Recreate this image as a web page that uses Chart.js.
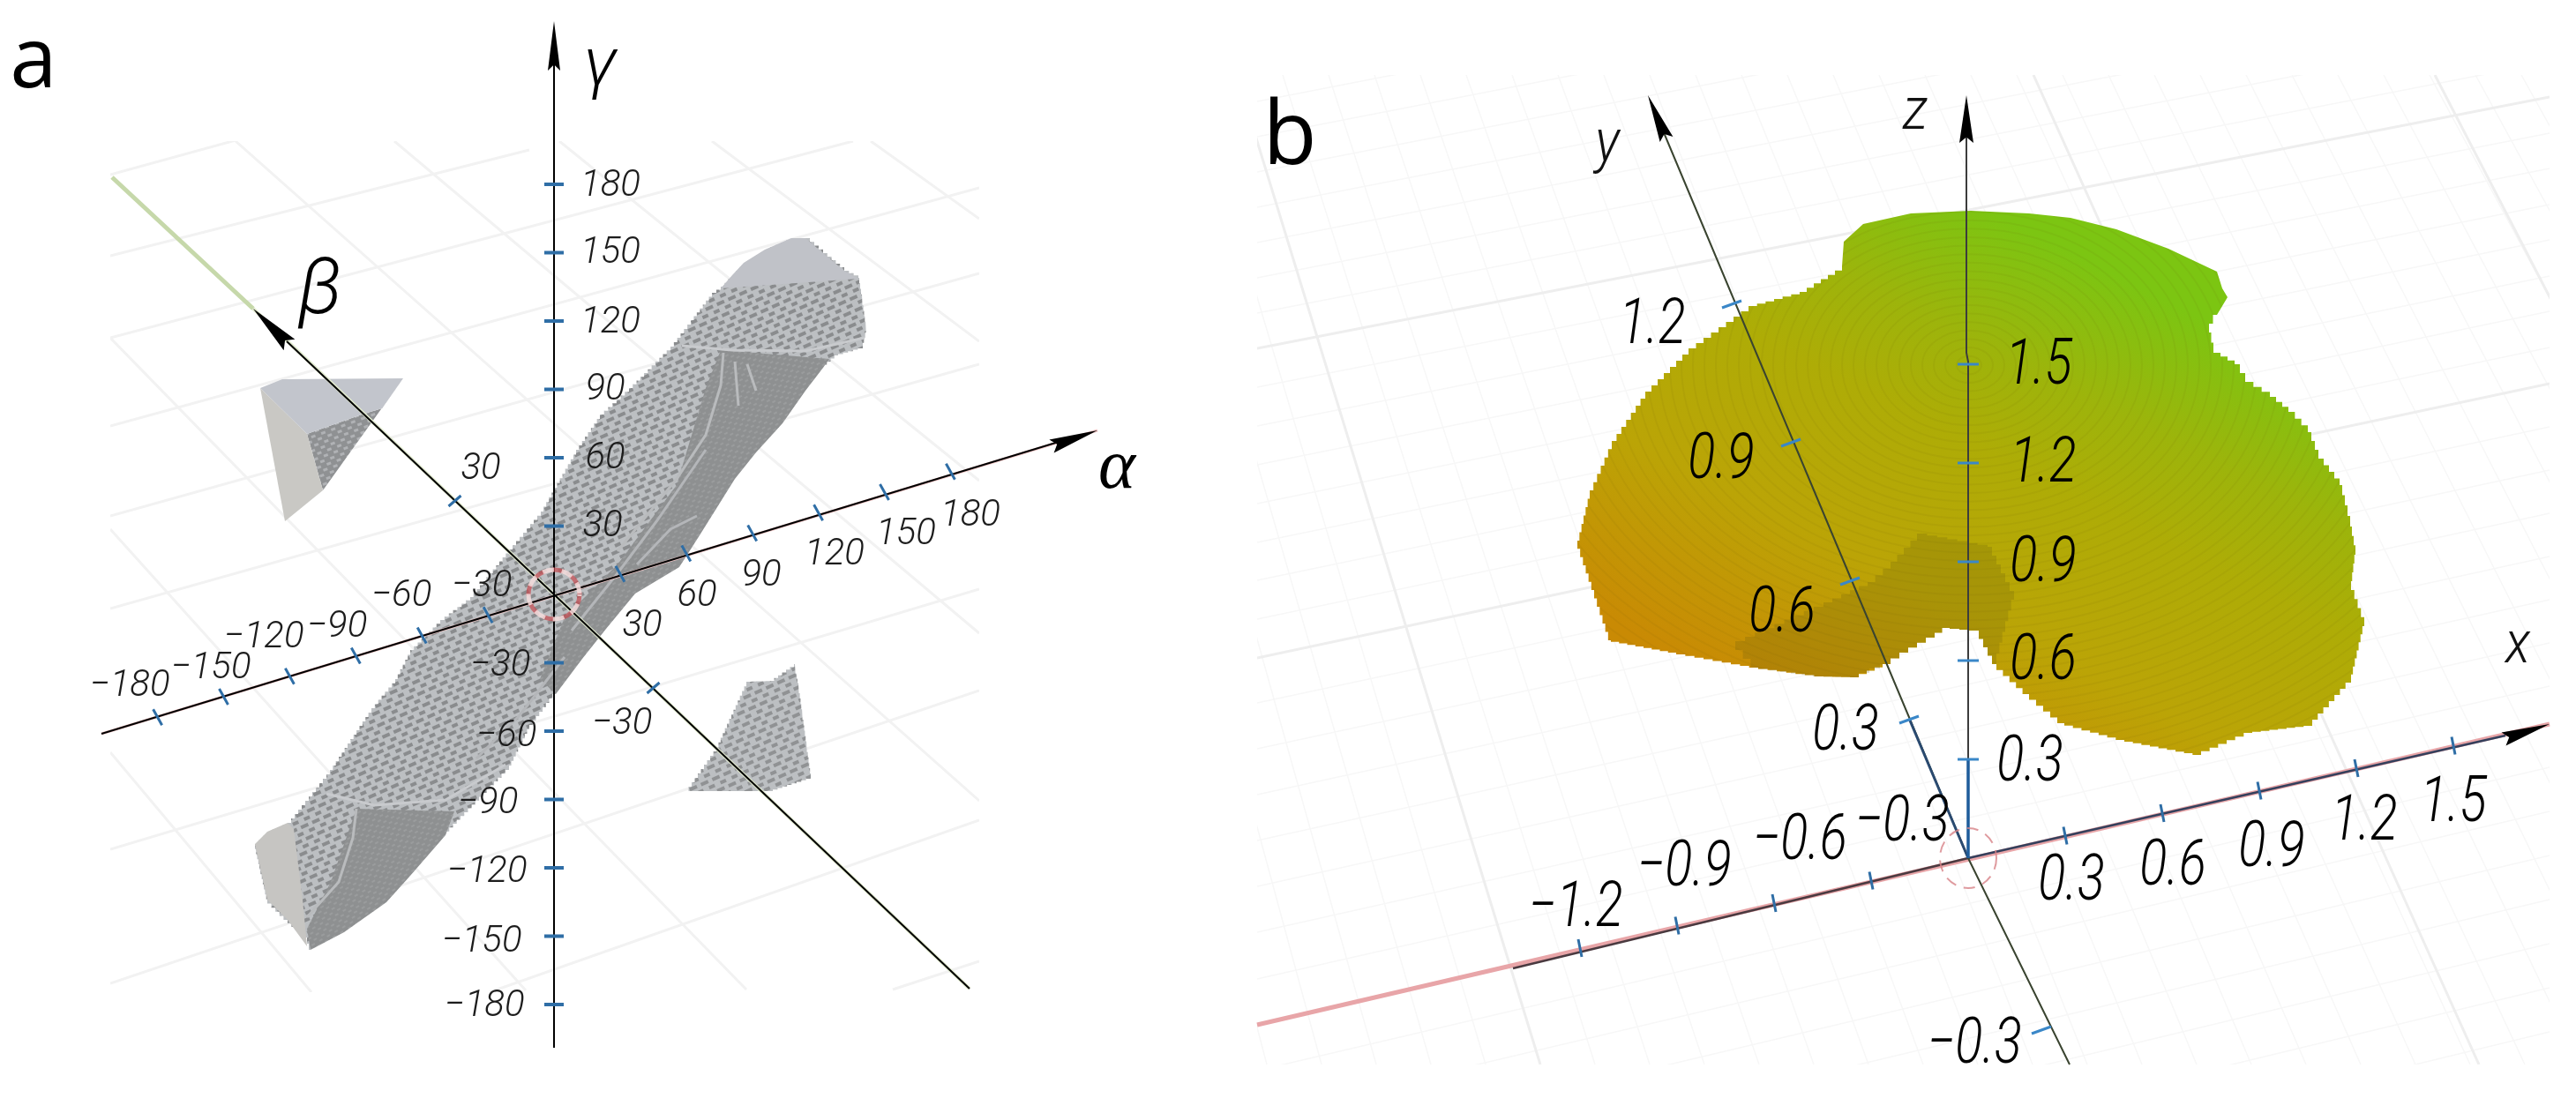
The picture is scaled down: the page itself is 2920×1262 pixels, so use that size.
<!DOCTYPE html>
<html>
<head>
<meta charset="utf-8">
<title>a b</title>
<script src="https://cdn.jsdelivr.net/npm/chart.js@4"></script>
<style>
  html, body { margin: 0; background: #fff; }
  canvas { display: block; }
</style>
</head>
<body>
<canvas id="cv" width="2920" height="1262"></canvas>
<script>
// values, the plot scales run in reference pixels
// panel a: angle axes
const alphaTicks = [-180, -150, -120, -90, -60, -30, 30, 60, 90, 120, 150, 180];
const alphaLabels = ["−180", "−150", "−120", "−90", "−60", "−30", "30", "60", "90", "120", "150", "180"];
const betaTicks = [30, -30];
const betaLabels = ["30", "−30"];
const gammaTicks = [180, 150, 120, 90, 60, 30, -30, -60, -90, -120, -150, -180];
const gammaLabels = ["180", "150", "120", "90", "60", "30", "−30", "−60", "−90", "−120", "−150", "−180"];

// panel b: coordinate axes
const xTicks = [-1.2, -0.9, -0.6, -0.3, 0.3, 0.6, 0.9, 1.2, 1.5];
const xLabels = ["−1.2", "−0.9", "−0.6", "−0.3", "0.3", "0.6", "0.9", "1.2", "1.5"];
const yTicks = [0.3, 0.6, 0.9, 1.2];
const yLabels = ["0.3", "0.6", "0.9", "1.2"];
const yBackTicks = [-0.3]; // the part behind the origin runs at another slope
const yBackLabels = ["−0.3"];
const zTicks = [0.3, 0.6, 0.9, 1.2, 1.5];
const zLabels = ["0.3", "0.6", "0.9", "1.2", "1.5"];

// solid in panel a
const bodyX = [817, 830, 843, 867, 897, 913, 933, 957, 973, 977, 982, 978, 950, 933, 913, 887, 857, 833, 793, 770, 720, 687, 660, 630, 600, 577, 505, 465, 438, 390, 352, 348, 326, 303, 289, 303, 326, 350, 374, 394, 421, 448, 465, 499, 533, 577, 613, 653, 680, 713, 760, 783, 807];
const bodyY = [325, 312, 298, 283, 270, 270, 287, 307, 315, 340, 377, 395, 403, 417, 443, 480, 513, 543, 607, 643, 673, 713, 747, 787, 827, 873, 947, 993, 1023, 1057, 1077, 1063, 1043, 1020, 957, 943, 933, 903, 873, 843, 803, 770, 737, 703, 677, 623, 580, 510, 470, 440, 393, 363, 332];
const capTopX = [817, 830, 843, 867, 897, 913, 933, 957, 973];
const capTopY = [327, 312, 298, 283, 270, 270, 287, 307, 316];
const capLowX = [289, 303, 326, 333, 343, 348, 326, 303];
const capLowY = [957, 943, 933, 940, 1020, 1073, 1043, 1020];
const darkUpX = [817, 940, 933, 913, 887, 857, 833, 793, 770, 720, 687, 660, 630, 612, 640, 700, 767, 800];
const darkUpY = [397, 407, 417, 443, 480, 513, 543, 607, 643, 673, 713, 747, 787, 770, 700, 640, 550, 440];
const darkLowX = [404, 515, 505, 465, 438, 390, 352, 348, 375];
const darkLowY = [917, 920, 947, 993, 1023, 1057, 1077, 1053, 1000];
const wedgeTopX = [295, 320, 457, 433, 410, 348];
const wedgeTopY = [440, 430, 429, 463, 470, 492];
const wedgeSideX = [295, 348, 366, 323];
const wedgeSideY = [440, 492, 556, 591];
const wedgeDarkX = [348, 410, 433, 457, 366];
const wedgeDarkY = [492, 470, 463, 429, 556];
const wedgeLowX = [777, 812, 846, 873, 900, 905, 919, 876];
const wedgeLowY = [897, 847, 773, 772, 753, 780, 883, 897];

// pale streaks running over the solid
const streak1X = [773, 830, 913, 980];
const streak1Y = [392, 397, 398, 383];
const streak2X = [370, 424, 505, 573];
const streak2Y = [900, 913, 907, 867];
const streak3X = [700, 767, 800, 817, 820];
const streak3Y = [625, 543, 493, 437, 400];
const streak4X = [348, 384, 400, 404];
const streak4Y = [1040, 1000, 950, 917];
const streak5X = [837, 833];
const streak5Y = [460, 410];
const streak6X = [857, 847];
const streak6Y = [443, 413];
const streak7X = [648, 700, 745, 800];
const streak7Y = [715, 650, 590, 510];
const streak8X = [722, 760, 790];
const streak8Y = [640, 600, 585];
const streak9X = [540, 590, 640];
const streak9Y = [860, 810, 745];

// solid in panel b
const domeTopX = [2088, 2090, 2112, 2166, 2234, 2300, 2347, 2399, 2458, 2513, 2519, 2525];
const domeTopY = [302, 274, 254, 242, 239, 242, 247, 260, 282, 308, 327, 337];
const domeRestX = [2513, 2504, 2509, 2533, 2545, 2573, 2594, 2616, 2628, 2652, 2658, 2664, 2670, 2665, 2680, 2665, 2621, 2553, 2495, 2408, 2340, 2300, 2263, 2243, 2210, 2193, 2163, 2143, 2107, 2067, 1993, 1900, 1826, 1807, 1788, 1802, 1827, 1865, 1914, 1982, 2040, 2088];
const domeRestY = [357, 377, 400, 413, 433, 450, 467, 490, 520, 550, 573, 597, 629, 669, 710, 774, 823, 831, 856, 839, 820, 787, 753, 715, 712, 723, 740, 753, 768, 767, 757, 740, 726, 669, 613, 556, 500, 444, 395, 347, 331, 302];
const notchX = [2173, 2253, 2283, 2263, 2243, 2210, 2193, 2163, 2143, 2107, 2067, 1993, 1967, 2067, 2117, 2143];
const notchY = [605, 620, 680, 753, 715, 712, 723, 740, 753, 768, 767, 757, 727, 683, 660, 637];

// floor grid of panel a, line ends
const gridAX0 = [125, 125, 125, 125, 125, 125, 125, 125, 555, 1012, 267, 447, 634, 807, 987, 125, 125, 125];
const gridAY0 = [198, 290, 383, 483, 585, 690, 963, 1115, 1125, 1122, 160, 160, 160, 160, 160, 383, 600, 853];
const gridAX1 = [300, 600, 967, 1110, 1110, 1110, 1110, 1110, 1110, 1110, 1110, 1110, 1110, 1110, 1110, 846, 596, 353];
const gridAY1 = [150, 170, 160, 213, 310, 413, 668, 783, 930, 1090, 908, 718, 545, 387, 248, 1122, 1123, 1125];

// floor grid of panel b, rows at the left and right edge, columns at the top and bottom edge
const rowLeftY = [115, 155, 195, 235, 275, 315, 355, 395, 439, 483, 527, 571, 615, 658, 702, 746, 797, 849, 901, 953, 1005, 1057, 1110, 1162, 1214];
const rowRightY = [-170, -130, -90, -50, -10, 30, 70, 110, 151, 191, 232, 272, 313, 353, 394, 435, 484, 533, 582, 631, 680, 729, 778, 821, 870];
const moreRowLeftY = [1266, 1318, 1370, 1422, 1474, 1526, 1578];
const moreRowRightY = [920, 970, 1020, 1070, 1120, 1170, 1220];
const colTopX = [1090, 1142, 1194, 1246, 1298, 1350, 1402, 1454, 1506, 1558, 1610, 1662, 1714, 1766, 1818, 1870, 1922, 1974, 2026, 2078, 2130, 2182, 2234, 2286, 2338, 2390, 2442, 2494, 2546, 2598, 2650, 2702, 2754, 2806, 2858, 2910];
const colBottomX = [1374, 1436, 1498, 1560, 1622, 1684, 1746, 1808, 1870, 1932, 1994, 2056, 2118, 2180, 2242, 2304, 2366, 2428, 2490, 2552, 2614, 2676, 2738, 2800, 2862, 2924, 2986, 3048, 3110, 3172, 3234, 3296, 3358, 3420, 3482, 3544];
const rowMajorLeftY = [395, 746];
const rowMajorRightY = [110, 435];
const colMajorTopX = [1402, 2305, 2760];
const colMajorBottomX = [1746, 2810, 3340];

// label anchors, in the same plot units
const alphaLabelX = [147, 239, 299, 382, 455, 546, 728, 790, 863, 946, 1027, 1100];
const alphaLabelY = [778, 758, 723, 711, 676, 665, 710, 676, 653, 629, 606, 585];
const betaLabelX = [545, 705];
const betaLabelY = [532, 821];
const gammaLabelX = [692, 692, 692, 686, 686, 683, 567, 574, 553, 552, 546, 549];
const gammaLabelY = [211, 287, 366, 442, 520, 597, 755, 835, 911, 989, 1068, 1141];
const xLabelX = [1786, 1909, 2040, 2156, 2348, 2463, 2575, 2680, 2781];
const xLabelY = [1032, 986, 956, 935, 1002, 985, 964, 934, 913];
const yLabelX = [2092, 2020, 1951, 1873];
const yLabelY = [832, 698, 524, 371];
const yBackLabelX = [2238];
const yBackLabelY = [1187];
const zLabelX = [2301, 2316, 2316, 2316, 2311];
const zLabelY = [867, 752, 641, 528, 417];

// where each axis sits: origin and step per tick unit
const axisA = { ox: 628, oy: 674 };
const axisB = { ox: 2231, oy: 973 };
const alphaStep = [74.9 / 30, -23.2 / 30];
const betaStep = [-112.5 / 30, -106 / 30];
const gammaStep = [0, -77.5 / 30];
const xStep = [110 / 0.3, -25.5 / 0.3];
const yStep = [-67 / 0.3, -157 / 0.3];
const yBackStep = [-83 / 0.3, -195 / 0.3];
const zStep = [0, -112 / 0.3];

const canvas = document.getElementById("cv");
const ctx = canvas.getContext("2d");

function pts(xs, ys) {
  return xs.map((x, i) => ({ x: x, y: ys[i] }));
}

// several separate lines in one dataset, a NaN point breaks the path
function lines(x0, y0, x1, y1) {
  let out = [];
  for (let i = 0; i < x0.length; i++) {
    out.push({ x: x0[i], y: y0[i] }, { x: x1[i], y: y1[i] }, { x: NaN, y: NaN });
  }
  return out;
}

function tickMarks(ticks, o, step, dx, dy) {
  let out = [];
  for (const t of ticks) {
    const px = o.ox + t * step[0];
    const py = o.oy + t * step[1];
    out.push({ x: px - dx, y: py - dy }, { x: px + dx, y: py + dy }, { x: NaN, y: NaN });
  }
  return out;
}

// voxel look: walk an outline in small stairs instead of straight edges
function stairs(points, size, closed) {
  let out = [];
  const last = closed ? points.length : points.length - 1;
  for (let i = 0; i < last; i++) {
    const a = points[i];
    const b = points[(i + 1) % points.length];
    const n = Math.max(1, Math.round(Math.hypot(b.x - a.x, b.y - a.y) / size));
    for (let k = 0; k < n; k++) {
      const p = { x: a.x + (b.x - a.x) * k / n, y: a.y + (b.y - a.y) * k / n };
      const q = { x: a.x + (b.x - a.x) * (k + 1) / n, y: a.y + (b.y - a.y) * (k + 1) / n };
      out.push(p, { x: q.x, y: p.y });
    }
  }
  return out;
}

// staggered dark bricks with pale mortar, like the voxel faces
function brickPattern(base, dark, w, h, bw, bh, angle) {
  const c = document.createElement("canvas");
  c.width = w;
  c.height = h * 2;
  const g = c.getContext("2d");
  g.fillStyle = base;
  g.fillRect(0, 0, c.width, c.height);
  g.fillStyle = dark;
  g.fillRect(0, 0, bw, bh);
  g.fillRect(w / 2, h, bw, bh);
  const p = ctx.createPattern(c, "repeat");
  p.setTransform(new DOMMatrix().rotate(angle));
  return p;
}

// the faint concentric steps on the dome
function ringPattern() {
  const c = document.createElement("canvas");
  c.width = canvas.width;
  c.height = canvas.height;
  const g = c.getContext("2d");
  g.strokeStyle = "rgba(95,85,0,0.07)";
  g.lineWidth = 2;
  for (let r = 14; r < 900; r += 13) {
    g.beginPath();
    g.ellipse(2232, 414, r, r * 0.74, 0, 0, Math.PI * 2);
    g.stroke();
  }
  return ctx.createPattern(c, "no-repeat");
}

const domeFill = ctx.createLinearGradient(2000, 830, 2300, 240);
domeFill.addColorStop(0.05, "#c98a04");
domeFill.addColorStop(0.34, "#bba406");
domeFill.addColorStop(0.6, "#aeac06");
domeFill.addColorStop(0.76, "#9db40b");
domeFill.addColorStop(0.97, "#7cc512");

function shape(data, fill) {
  return { data: data, showLine: true, fill: "shape", backgroundColor: fill, borderWidth: 0, borderColor: "transparent", pointRadius: 0, tension: 0 };
}
function stroke(data, color, width, extra) {
  return Object.assign({ data: data, showLine: true, fill: false, borderColor: color, borderWidth: width, pointRadius: 0, tension: 0, spanGaps: false }, extra || {});
}
function arrow(tipX, tipY, baseX, baseY, half) {
  const len = Math.hypot(tipX - baseX, tipY - baseY);
  const nx = -(tipY - baseY) / len * half;
  const ny = (tipX - baseX) / len * half;
  return [{ x: tipX, y: tipY }, { x: baseX + nx, y: baseY + ny }, { x: baseX + (tipX - baseX) * 0.12, y: baseY + (tipY - baseY) * 0.12 }, { x: baseX - nx, y: baseY - ny }];
}

const clipA = { left: -125, top: -160, right: -1810, bottom: -137 };
const clipB = { left: -1425, top: -85, right: -30, bottom: -55 };
const blue = "#2f6ea6";

const domeOutline = pts(domeTopX, domeTopY).concat(stairs(pts(domeRestX, domeRestY), 10, false));
const bodyOutline = stairs(pts(bodyX, bodyY), 6, true);

// painter's order, first entry at the back
let datasets = [
  stroke(lines(gridAX0, gridAY0, gridAX1, gridAY1), "#f2f2f2", 3, { clip: clipA }),
  stroke(lines(rowLeftY.map(() => 1425), rowLeftY, rowRightY.map(() => 2890), rowRightY), "#f7f7f7", 1.5, { clip: clipB }),
  stroke(lines(moreRowLeftY.map(() => 1425), moreRowLeftY, moreRowRightY.map(() => 2890), moreRowRightY), "#f7f7f7", 1.5, { clip: clipB }),
  stroke(lines(colTopX, colTopX.map(() => 85), colBottomX, colBottomX.map(() => 1207)), "#f7f7f7", 1.5, { clip: clipB }),
  stroke(lines(rowMajorLeftY.map(() => 1425), rowMajorLeftY, rowMajorRightY.map(() => 2890), rowMajorRightY), "#eeeeee", 3, { clip: clipB }),
  stroke(lines(colMajorTopX, colMajorTopX.map(() => 85), colMajorBottomX, colMajorBottomX.map(() => 1207)), "#eeeeee", 3, { clip: clipB }),

  // panel a solids
  shape(bodyOutline, brickPattern("#bcbfc2", "#8a8c8e", 14, 7, 9, 4, -24)),
  shape(pts(darkUpX, darkUpY), brickPattern("#8e9091", "#9a9c9d", 10, 4, 4, 2, -30)),
  shape(pts(darkLowX, darkLowY), brickPattern("#8e9091", "#9a9c9d", 10, 4, 4, 2, -30)),
  stroke(pts(streak1X, streak1Y), "#c8cacd", 3),
  stroke(pts(streak2X, streak2Y), "#c8cacd", 3),
  stroke(pts(streak3X, streak3Y), "#b9bbbd", 3),
  stroke(pts(streak4X, streak4Y), "#b9bbbd", 3),
  stroke(pts(streak5X, streak5Y), "#b9bbbd", 3),
  stroke(pts(streak6X, streak6Y), "#b9bbbd", 3),
  stroke(pts(streak7X, streak7Y), "#b4b6b9", 3),
  stroke(pts(streak8X, streak8Y), "#b4b6b9", 3),
  stroke(pts(streak9X, streak9Y), "#b4b6b9", 3),
  shape(pts(capTopX, capTopY), "#c0c2c8"),
  shape(pts(capLowX, capLowY), "#c6c5c2"),
  shape(pts(wedgeDarkX, wedgeDarkY), brickPattern("#8f9193", "#b0b2b5", 12, 5, 5, 3, -20)),
  shape(pts(wedgeSideX, wedgeSideY), "#c9c8c4"),
  shape(pts(wedgeTopX, wedgeTopY), "#c2c5cc"),
  shape(stairs(pts(wedgeLowX, wedgeLowY), 6, true), brickPattern("#bcbfc2", "#909294", 14, 7, 9, 4, -24)),

  // panel b solid
  shape(domeOutline, domeFill),
  shape(domeOutline, ringPattern()),
  shape(stairs(pts(notchX, notchY), 12, true), "rgba(95,85,15,0.2)"),

  // axis colour under the black lines
  stroke(pts([115, 1244], [832, 488]), "#f0c6c6", 3),
  stroke(pts([127, 287], [201, 350]), "#c6d8aa", 5),
  stroke(pts([287, 628, 1099], [350, 674, 1121]), "#e2ebcf", 4),
  stroke(pts([1425, 2890], [1162, 821]), "#e8a5a8", 5),

  // axes
  stroke(pts([115, 1200], [832, 501]), "#000", 2),
  stroke(pts([628, 628], [60, 1188]), "#000", 2),
  stroke(pts([325, 628, 1099], [387, 674, 1121]), "#000", 2),
  stroke(pts([1715, 2231], [1098, 973]), "#4a3a40", 2.5),
  stroke(pts([2231, 2840], [973, 834]), "#34405c", 2.5),
  stroke(pts([1885, 2231, 2346], [148, 973, 1207]), "#3a4430", 2),
  stroke(pts([2165, 2231], [817, 973]), "#2a4a70", 3),
  stroke(pts([2229, 2229, 2231, 2231], [150, 400, 410, 860]), "#3c3c3c", 2),
  stroke(pts([2231, 2231], [862, 973]), "#1e5c9a", 3.5),

  // axis arrows
  shape(arrow(1244, 488, 1192, 506, 8), "#000"),
  shape(arrow(287, 350, 328, 391, 9), "#000"),
  shape(arrow(628, 24, 628, 80, 7), "#000"),
  shape(arrow(2890, 821, 2838, 838, 8), "#000"),
  shape(arrow(1868, 108, 1889, 158, 8), "#000"),
  shape(arrow(2229, 108, 2229, 162, 8), "#000"),

  // tick marks
  stroke(tickMarks(alphaTicks, axisA, alphaStep, 5, 9), blue, 3),
  stroke(tickMarks(betaTicks, axisA, betaStep, 7, -6), blue, 3),
  stroke(tickMarks(gammaTicks, axisA, gammaStep, 11, 0), blue, 4),
  stroke(tickMarks(xTicks, axisB, xStep, 2, 10), blue, 3),
  stroke(tickMarks(yTicks, axisB, yStep, 11, -4), "#3a87c8", 3),
  stroke(tickMarks(yBackTicks, axisB, yBackStep, 11, -4), "#3a87c8", 3),
  stroke(tickMarks(zTicks, axisB, zStep, 12, 0), "#3a87c8", 3)
];
datasets.reverse(); // chart.js paints the first dataset last

const tickFontA = 'italic 300 42px Roboto';
const tickFontB = 'italic 300 72px Roboto';

const textLayer = {
  id: "textLayer",
  afterDatasetsDraw(chart) {
    const c = chart.ctx;
    const sx = chart.scales.x;
    const sy = chart.scales.y;

    // dashed origin rings
    c.save();
    c.lineWidth = 5;
    c.setLineDash([13, 9]);
    c.strokeStyle = "rgba(196,72,78,0.7)";
    c.beginPath();
    c.ellipse(sx.getPixelForValue(axisA.ox), sy.getPixelForValue(axisA.oy), 29, 28, 0, 0, Math.PI * 2);
    c.stroke();
    c.lineDashOffset = 11;
    c.strokeStyle = "rgba(245,220,220,0.85)";
    c.stroke();
    c.lineWidth = 2;
    c.lineDashOffset = 0;
    c.strokeStyle = "rgba(215,130,135,0.8)";
    c.beginPath();
    c.ellipse(sx.getPixelForValue(axisB.ox), sy.getPixelForValue(axisB.oy), 32, 34, 0, 0, Math.PI * 2);
    c.stroke();
    c.restore();

    c.save();
    c.textAlign = "center";
    c.textBaseline = "middle";
    // squeeze narrows the glyphs, no condensed italic is installed
    function put(font, color, squeeze, labels, xs, ys) {
      c.font = font;
      c.fillStyle = color;
      labels.forEach((t, i) => {
        c.save();
        c.translate(sx.getPixelForValue(xs[i]), sy.getPixelForValue(ys[i]));
        c.scale(squeeze, 1);
        c.fillText(t, 0, 0);
        c.restore();
      });
    }
    put(tickFontA, "#1c1c1c", 1, alphaLabels, alphaLabelX, alphaLabelY);
    put(tickFontA, "#1c1c1c", 1, betaLabels, betaLabelX, betaLabelY);
    put(tickFontA, "#1c1c1c", 1, gammaLabels, gammaLabelX, gammaLabelY);
    put(tickFontB, "#000", 0.8, xLabels, xLabelX, xLabelY);
    put(tickFontB, "#000", 0.8, yLabels, yLabelX, yLabelY);
    put(tickFontB, "#000", 0.8, yBackLabels, yBackLabelX, yBackLabelY);
    put(tickFontB, "#000", 0.8, zLabels, zLabelX, zLabelY);
    put('italic 80px "Liberation Serif"', "#000", 1, ["α"], [1266], [532]);
    put('italic 300 88px Roboto', "#000", 1, ["β"], [363], [333]);
    put('italic 300 78px Roboto', "#000", 1, ["γ"], [680], [77]);
    put('italic 300 66px Roboto', "#111", 0.9, ["x", "y", "z"], [2854, 1822, 2171], [734, 165, 129]);
    put('96px "Open Sans"', "#000", 1, ["a"], [38], [72]);
    put('100px "Open Sans"', "#000", 1, ["b"], [1462], [158]);
    c.restore();
  }
};

new Chart(ctx, {
  type: "scatter",
  data: { datasets: datasets },
  plugins: [textLayer],
  options: {
    responsive: false,
    animation: false,
    layout: { padding: 0 },
    plugins: { legend: { display: false }, tooltip: { enabled: false } },
    scales: {
      x: { type: "linear", min: 0, max: 2920, display: false },
      y: { type: "linear", min: 0, max: 1262, reverse: true, display: false }
    }
  }
});
</script>
</body>
</html>
